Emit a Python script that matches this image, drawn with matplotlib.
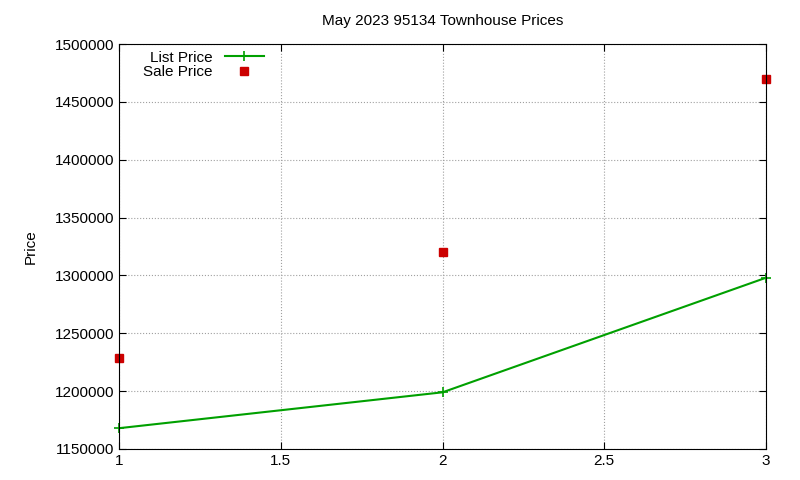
import matplotlib.pyplot as plt
from matplotlib.ticker import FormatStrFormatter

plt.rcParams['font.family'] = ['Liberation Sans', 'DejaVu Sans']

# data
house = [1, 2, 3]
listPrice = [1168000, 1199000, 1298000]
salePrice = [1229000, 1320000, 1470000]

fig = plt.figure(figsize=(8, 4.8), dpi=100)
ax = fig.add_axes([0.149, 0.0646, 0.8085, 0.8437])

ax.plot(house, listPrice, color='#00a000', lw=1.5, marker='+', ms=7, mew=1.2, label='List Price', clip_on=False)
ax.plot(house, salePrice, ls='none', marker='s', ms=6, color='#cc0000', label='Sale Price', clip_on=False)

ax.set_xlim(1, 3)
ax.set_ylim(1150000, 1500000)
ax.set_xticks([1, 1.5, 2, 2.5, 3])
ax.set_xticklabels(['1', '1.5', '2', '2.5', '3'])
ax.set_yticks(range(1150000, 1500001, 50000))
ax.yaxis.set_major_formatter(FormatStrFormatter('%d'))
ax.grid(True, color='#a0a0a0', ls=':', lw=0.8)
ax.tick_params(direction='in', labelsize=11, top=True, right=True, length=5)
for s in ax.spines.values():
  s.set_linewidth(0.8)

ax.set_ylabel('Price', fontsize=11, labelpad=12)
ax.set_title('May 2023 95134 Townhouse Prices', fontsize=11, pad=14)
ax.legend(loc='upper left', bbox_to_anchor=(0.02, 1.01), frameon=False, markerfirst=False,
          fontsize=11, handlelength=2.6, borderpad=0.2, labelspacing=0.05)

fig.savefig('out.png', dpi=100)
